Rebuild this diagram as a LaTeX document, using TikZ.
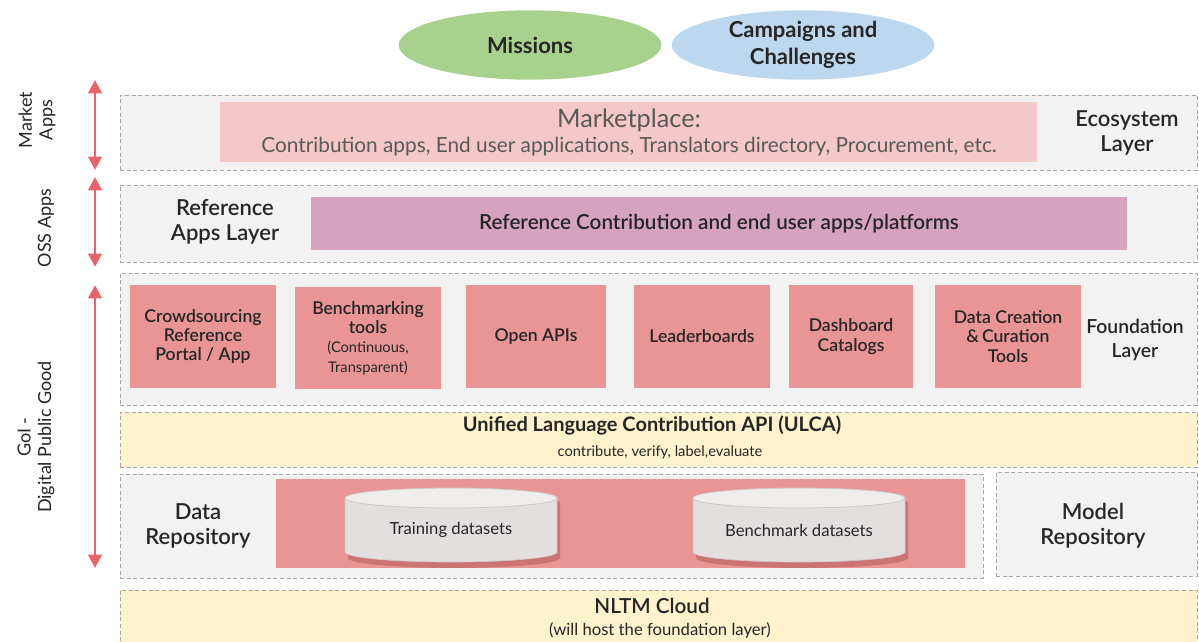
\documentclass[tikz,border=0pt]{standalone}
\usepackage{fontspec}
\setmainfont{Lato}
\IfFontExistsTF{Lato Semibold}{\newfontfamily\semib{Lato Semibold}}{\newfontfamily\semib{Lato}}
\usetikzlibrary{arrows.meta,shapes.geometric}
\definecolor{mgreen}{HTML}{A9D18E}
\definecolor{mblue}{HTML}{BDD7EE}
\definecolor{lgray}{HTML}{F2F2F2}
\definecolor{dgray}{HTML}{A6A6A6}
\definecolor{mpink}{HTML}{F4C7C8}
\definecolor{mpurple}{HTML}{D5A3BE}
\definecolor{salmon}{HTML}{E99595}
\definecolor{lyellow}{HTML}{FFF2CC}
\definecolor{redarrow}{HTML}{E8636C}
\definecolor{txt}{HTML}{262626}
\definecolor{txtgray}{HTML}{595959}
\definecolor{cylbody}{HTML}{E3DFDF}
\definecolor{cylend}{HTML}{F0EDED}
\definecolor{cylrim}{HTML}{CFC7C7}
\newcommand\pbox[6][]{\node[#1, anchor=north west, inner sep=0pt, outer sep=0pt,
  minimum width={(#5-#3)*0.75pt}, minimum height={(#6-#4)*0.75pt}] (#2) at (#3,#4)}
\newcommand\dbcyl[3]{%
  \begin{scope}[shift={(#2,0)}]
    \fill[black!60!red, opacity=0.22] (-103,503) arc[start angle=180, end angle=0, x radius=79.5pt, y radius=7.5pt]
      -- (109,558) arc[start angle=0, end angle=-180, x radius=79.5pt, y radius=7.5pt] -- cycle;
    \filldraw[fill=cylbody, draw=cylrim, line width=0.5pt] (-106,498) -- (-106,552)
      arc[start angle=180, end angle=360, x radius=79.5pt, y radius=7.5pt] -- (106,498) -- cycle;
    \filldraw[fill=cylend, draw=cylrim, line width=0.6pt] (0,498) ellipse[x radius=79.5pt, y radius=7.5pt];
    \node[text=txt, font=\fontsize{12.5}{14}\selectfont] (#1) at (0,530) {#3};
  \end{scope}}
\tikzset{
  layer/.style={fill=lgray, draw=dgray, dash pattern=on 3pt off 2pt, line width=0.6pt},
  ylayer/.style={fill=lyellow, draw=dgray, dash pattern=on 3pt off 2pt, line width=0.6pt},
  tool/.style={fill=salmon, align=center, text=txt, font=\semib\fontsize{13.2}{14.5}\selectfont},
  lbl/.style={align=center, text=txt, font=\semib\fontsize{16.5}{19}\selectfont},
  side/.style={rotate=90, align=center, text=txt, font=\fontsize{13.5}{15.5}\selectfont},
  dbl/.style={redarrow, line width=2.2pt, {Triangle[length=10pt,width=10pt]}-{Triangle[length=10pt,width=10pt]}},
}
\begin{document}
\begin{tikzpicture}[x=0.75pt,y=-0.75pt]
\useasboundingbox[fill=white] (0,0) rectangle (1199,642);

% top ellipses
\node[ellipse, fill=mgreen, minimum width=197pt, minimum height=52pt, inner sep=0pt,
  font=\bfseries\fontsize{16.5}{18}\selectfont, text=txt] (missions) at (530,45) {Missions};
\node[ellipse, fill=mblue, minimum width=197pt, minimum height=52pt, inner sep=0pt, align=center,
  font=\bfseries\fontsize{16.5}{20}\selectfont, text=txt] (campaigns) at (803,45) {Campaigns and\\Challenges};

% Market apps layer
\pbox[layer]{market}{120}{95}{1197}{170}{};
\pbox[fill=mpink]{marketplace}{220}{102}{1037}{162}{};
\node[text=txtgray, font=\fontsize{19}{22}\selectfont] (mptitle) at (629,120) {Marketplace:};
\node[text=txtgray, font=\fontsize{15.6}{18}\selectfont] (mpsub) at (629,147) {Contribution apps, End user applications, Translators directory, Procurement, etc.};
\node[lbl] (eco) at (1127,133) {Ecosystem\\Layer};

% OSS apps layer
\pbox[layer]{oss}{120}{185}{1197}{262}{};
\node[lbl] (refapps) at (225,222) {Reference\\Apps Layer};
\pbox[fill=mpurple, text=txt, font=\semib\fontsize{15.5}{18}\selectfont]{refbar}{311}{197}{1127}{250}{Reference Contribution and end user apps/platforms};

% Foundation layer
\pbox[layer]{found}{120}{273}{1197}{405}{};
\pbox[tool]{t1}{130}{285}{276}{388}{Crowdsourcing\\Reference\\Portal / App};
\pbox[tool]{t2}{295}{287}{441}{389}{Benchmarking\\tools\\{\normalfont\fontsize{11}{12.5}\selectfont (Continuous,}\\{\normalfont\fontsize{11}{12.5}\selectfont Transparent)}};
\pbox[tool]{t3}{466}{285}{606}{388}{Open APIs};
\pbox[tool]{t4}{634}{285}{770}{388}{Leaderboards};
\pbox[tool]{t5}{789}{285}{913}{388}{Dashboard\\Catalogs};
\pbox[tool]{t6}{935}{285}{1081}{388}{Data Creation\\\&\,Curation\\Tools};
\node[lbl, font=\semib\fontsize{14.5}{17.5}\selectfont] (foundlbl) at (1135,340) {Foundation\\Layer};

% ULCA
\pbox[ylayer]{ulca}{120}{412}{1197}{467}{};
\node[text=txt, font=\bfseries\fontsize{15}{17}\selectfont] (ulcat) at (652,425) {Unified Language Contribution API (ULCA)};
\node[text=txt, font=\fontsize{11}{13}\selectfont] (ulcas) at (660,452) {contribute, verify, label,evaluate};

% Data repository
\pbox[layer]{datarep}{120}{474}{983}{578}{};
\node[lbl] (datalbl) at (198,526) {Data\\Repository};
\pbox[fill=salmon]{databand}{276}{479}{965}{568}{};
\dbcyl{train}{451}{Training datasets}
\dbcyl{bench}{799}{Benchmark datasets}

% Model repository
\pbox[layer]{modelrep}{996}{472}{1197}{576}{};
\node[lbl] (modellbl) at (1093,526) {Model\\Repository};

% NLTM cloud
\pbox[ylayer]{nltm}{120}{590}{1197}{642}{};
\node[text=txt, font=\semib\fontsize{15.5}{17}\selectfont] (nltmt) at (652,606) {NLTM Cloud};
\node[text=txt, font=\fontsize{12.5}{14}\selectfont] (nltms) at (660,630) {(will host the foundation layer)};

% left arrows
\coordinate (a1t) at (95,80); \coordinate (a1b) at (95,170);
\coordinate (a2t) at (95,177); \coordinate (a2b) at (95,267);
\coordinate (a3t) at (95,285); \coordinate (a3b) at (95,568);
\draw[dbl] (a1t) -- (a1b);
\draw[dbl] (a2t) -- (a2b);
\draw[dbl] (a3t) -- (a3b);
\node[side] (mlbl) at (37,120) {Market\\Apps};
\node[side] (olbl) at (46,228) {OSS Apps};
\node[side] (glbl) at (36,437) {GoI -\\Digital Public Good};
\end{tikzpicture}
\end{document}
